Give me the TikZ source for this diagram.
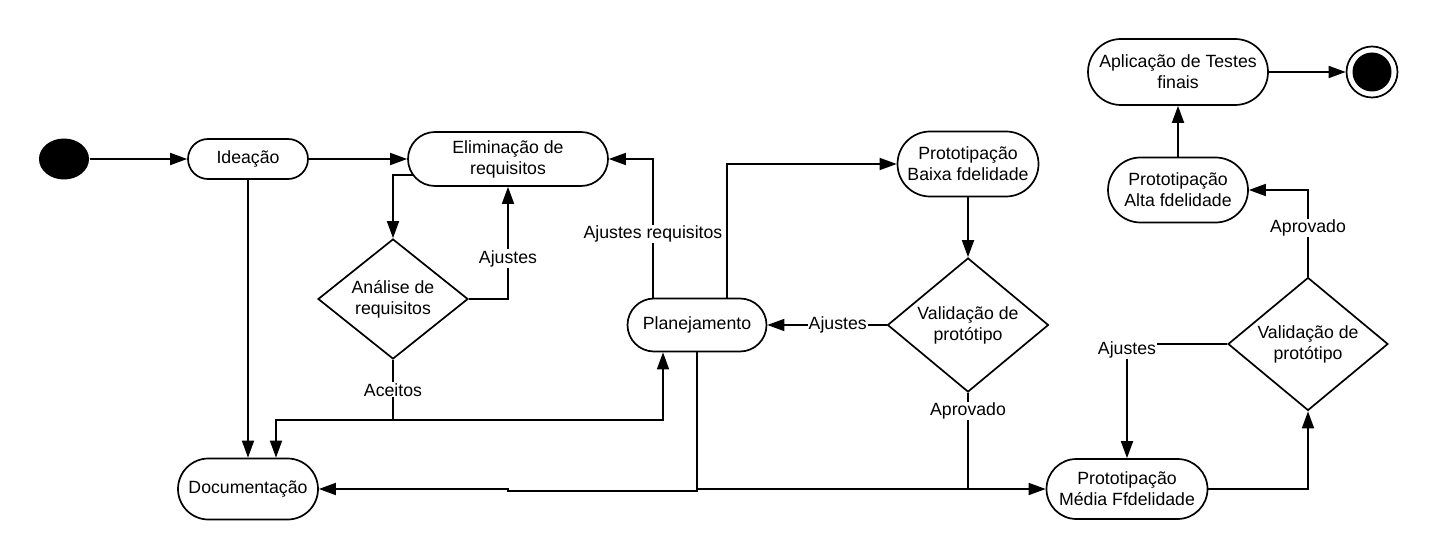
\documentclass[tikz,border=0pt]{standalone}
\usepackage{fontspec}
\setmainfont{Liberation Sans}
\usepackage{tikz}
\usetikzlibrary{positioning,shapes,arrows.meta}
\tikzstyle{StateNode}=[rectangle, draw=black, line width=1.7pt, fill=white, align=center, inner sep=2pt, font=\fontsize{17.7}{21}\selectfont]
\tikzstyle{DecisionNode}=[diamond, draw=black, line width=1.7pt, fill=white, align=center, inner sep=-12pt, font=\fontsize{17.7}{21}\selectfont]
\tikzstyle{LabelNode}=[fill=white, inner sep=1pt, font=\fontsize{17.7}{21}\selectfont]

\begin{document}
\begin{tikzpicture}[on grid, line width=1.7pt, >={Triangle[length=17pt,width=12pt]}]

    \useasboundingbox (-64pt,159pt) rectangle (1375pt,-400pt);

    \node (Start) [ellipse, fill=black, minimum width=50pt, minimum height=41pt, inner sep=0pt] {};
    \node (Ideacao) [StateNode, minimum width=120pt, minimum height=40pt, rounded corners=20pt, right=184pt of Start] {Ideação};
    \node (Elim) [StateNode, minimum width=200pt, minimum height=54pt, rounded corners=27pt, right=260pt of Ideacao] {Eliminação de\\requisitos};
    \node (Analise) [DecisionNode, minimum width=150pt, minimum height=120pt, below left=140pt and 115pt of Elim] {Análise de\\requisitos};
    \node (Doc) [StateNode, minimum width=140pt, minimum height=61pt, rounded corners=30.5pt, below=330pt of Ideacao] {Documentação};
    \node (Planej) [StateNode, minimum width=139pt, minimum height=53pt, rounded corners=26.5pt, below right=166pt and 189pt of Elim] {Planejamento};
    \node (ProtoBaixa) [StateNode, minimum width=141pt, minimum height=65pt, rounded corners=32.5pt, above right=161pt and 271pt of Planej] {Prototipação\\Baixa fdelidade};
    \node (Valid01) [DecisionNode, minimum width=161pt, minimum height=134pt, below=161pt of ProtoBaixa] {Validação de\\protótipo};
    \node (ProtoMedia) [StateNode, minimum width=161pt, minimum height=60pt, rounded corners=30pt, below right=164pt and 159pt of Valid01] {Prototipação\\Média Ffdelidade};
    \node (Valid02) [DecisionNode, minimum width=160pt, minimum height=133pt, above right=145pt and 181pt of ProtoMedia] {Validação de\\protótipo};
    \node (ProtoAlta) [StateNode, minimum width=140pt, minimum height=65pt, rounded corners=32.5pt, above left=154pt and 130pt of Valid02] {Prototipação\\Alta fdelidade};
    \node (Testes) [StateNode, minimum width=180pt, minimum height=66pt, rounded corners=33pt, above=118pt of ProtoAlta] {Aplicação de Testes\\finais};
    \node (End) [circle, draw=black, line width=1.7pt, minimum size=51pt, inner sep=0pt, right=194pt of Testes,
      path picture={\fill[black] (path picture bounding box.center) circle (19.5pt);}] {};

    \coordinate (AuxNode01) at ([yshift=-60pt]Analise.south);
    \coordinate (AuxNode02) at (Elim.south |- Doc.east);
    \coordinate (AuxNode03) at (Valid01.south |- ProtoMedia.west);
    \coordinate (AuxNode04) at (Planej.south |- ProtoMedia.west);

    \draw [->] (Start.east) -- (Ideacao.west);
    \draw [->] (Ideacao.east) -- (Elim.west);
    \draw [->] ([xshift=6pt,yshift=-16pt]Elim.west) -| (Analise.north);
    \draw [->] (Analise.east) -| node (LblAjustes01) [LabelNode, pos=0.68] {Ajustes} (Elim.south);
    \draw [-] (Analise.south) -- node (LblAceitos) [LabelNode, pos=0.5] {Aceitos} (AuxNode01);
    \draw [->] (AuxNode01) -| ([xshift=28pt]Doc.north);
    \draw [->] (AuxNode01) -| ([xshift=-34pt]Planej.south);
    \draw [->] (Ideacao.south) -- (Doc.north);
    \draw [->] ([xshift=-44pt]Planej.north) |- node (LblAjustesReq) [LabelNode, pos=0.23] {Ajustes requisitos} (Elim.east);
    \draw [->] ([xshift=30pt]Planej.north) |- (ProtoBaixa.west);
    \draw [->] (ProtoBaixa.south) -- (Valid01.north);
    \draw [->] (Valid01.west) -- node (LblAjustes02) [LabelNode, pos=0.41] {Ajustes} (Planej.east);
    \draw [-] (Valid01.south) -- node (LblAprovado01) [LabelNode, pos=0.19] {Aprovado} (AuxNode03);
    \draw [->] (Planej.south) |- ([yshift=-2pt]AuxNode02) |- (Doc.east);
    \draw [->] (AuxNode04) -- (ProtoMedia.west);
    \draw [->] (ProtoMedia.east) -| (Valid02.south);
    \draw [->] (Valid02.west) -| node (LblAjustes03) [LabelNode, pos=0.5, yshift=-6pt] {Ajustes} (ProtoMedia.north);
    \draw [->] (Valid02.north) |- node (LblAprovado02) [LabelNode, pos=0.28] {Aprovado} (ProtoAlta.east);
    \draw [->] (ProtoAlta.north) -- (Testes.south);
    \draw [->] (Testes.east) -- (End.west);

\end{tikzpicture}
\end{document}
